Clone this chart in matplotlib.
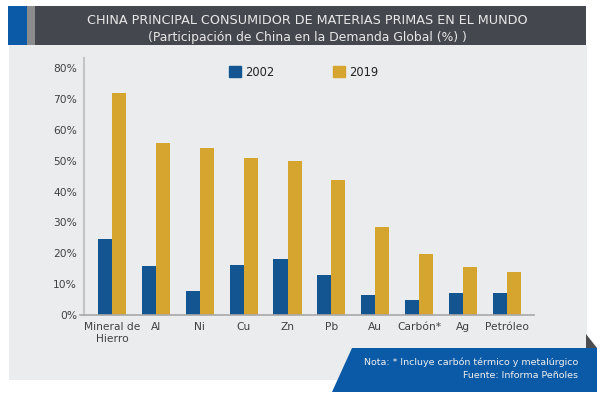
import matplotlib.pyplot as plt
from matplotlib.patches import Rectangle, Polygon, Patch
import numpy as np

categories = ['Mineral de\nHierro', 'Al', 'Ni', 'Cu', 'Zn', 'Pb', 'Au', 'Carbón*', 'Ag', 'Petróleo']
v2002 = [24.6, 15.9, 7.8, 16.2, 18.2, 13.0, 6.5, 4.9, 7.1, 7.1]
v2019 = [71.9, 55.7, 54.1, 50.9, 49.9, 43.8, 28.5, 19.8, 15.6, 14.0]
yticks = [0, 10, 20, 30, 40, 50, 60, 70, 80]

W, H = 603, 397
c_blue = '#135591'
c_gold = '#d5a530'
c_panel = '#ebecee'
c_head = '#45474f'
c_note = '#0b5aa7'
c_text = '#404040'

plt.rcParams['font.family'] = 'DejaVu Sans'

fig = plt.figure(figsize=(W / 100, H / 100), dpi=100)
fig.patch.set_facecolor('white')


def px(x, y):
    return (x / W, 1 - y / H)


def rect(x0, y0, x1, y1, color):
    fx, fy = px(x0, y1)
    fig.add_artist(Rectangle((fx, fy), (x1 - x0) / W, (y1 - y0) / H,
                             transform=fig.transFigure, color=color, lw=0, zorder=0))


# background panel and header
rect(9, 45, 587, 380, c_panel)
rect(35, 6, 586, 45, c_head)
rect(8, 6, 27, 45, '#0a5aa8')
rect(27, 6, 35, 45, '#8a8c8e')

fig.text(px(307, 20)[0], px(307, 20)[1], 'CHINA PRINCIPAL CONSUMIDOR DE MATERIAS PRIMAS EN EL MUNDO',
         ha='center', va='center', color='#e8e8e8', fontsize=9.2)
fig.text(px(307, 37)[0], px(307, 37)[1], '(Participación de China en la Demanda Global (%) )',
         ha='center', va='center', color='#e8e8e8', fontsize=8.9)

# note box
fig.add_artist(Polygon([px(586, 334), px(586, 348), px(597, 348)], closed=True,
                       transform=fig.transFigure, color='#4a4c50', lw=0, zorder=0))
fig.add_artist(Polygon([px(352, 348), px(597, 348), px(597, 392), px(332, 392)], closed=True,
                       transform=fig.transFigure, color=c_note, lw=0, zorder=1))
fig.text(px(578, 362)[0], px(578, 362)[1], 'Nota: * Incluye carbón térmico y metalúrgico',
         ha='right', va='center', color='#f0f0f0', fontsize=6.8, zorder=2)
fig.text(px(578, 376)[0], px(578, 376)[1], 'Fuente: Informa Peñoles',
         ha='right', va='center', color='#f0f0f0', fontsize=6.8, zorder=2)

# chart
ax = fig.add_axes([84 / W, 1 - 315 / H, (534 - 84) / W, (315 - 58) / H])
ax.set_facecolor('none')
x = np.arange(len(categories))
w = 0.32
ax.bar(x - w / 2, v2002, w, color=c_blue, label='2002', zorder=2)
ax.bar(x + w / 2, v2019, w, color=c_gold, label='2019', zorder=2)

ax.set_xlim(-0.64, 9.62)
ax.set_ylim(0, 83.3)
ax.set_yticks(yticks)
ax.set_yticklabels([f'{t}%' for t in yticks])
ax.set_xticks(x)
ax.set_xticklabels(categories)
ax.tick_params(axis='both', length=0, labelsize=7.7, labelcolor=c_text)
ax.tick_params(axis='y', pad=5)
ax.tick_params(axis='x', pad=5)
for s in ['top', 'right']:
    ax.spines[s].set_visible(False)
ax.spines['left'].set_color('#c4c4c4')
ax.spines['left'].set_linewidth(1.5)
ax.spines['bottom'].set_color('#a8a8a8')
ax.spines['bottom'].set_linewidth(1.2)
ax.spines['bottom'].set_bounds(-0.73, 9.62)

handles = [Patch(color=c_blue, label='2002'), Patch(color=c_gold, label='2019')]
ax.legend(handles=handles, loc='center left', bbox_to_anchor=((229 - 84) / 450, (315 - 72) / 257),
          ncol=2, frameon=False, fontsize=8.3, handlelength=1.0, handleheight=1.0,
          handletextpad=0.4, columnspacing=5.1, borderpad=0, borderaxespad=0,
          labelcolor='#222222')

fig.savefig('out.png', dpi=100)
